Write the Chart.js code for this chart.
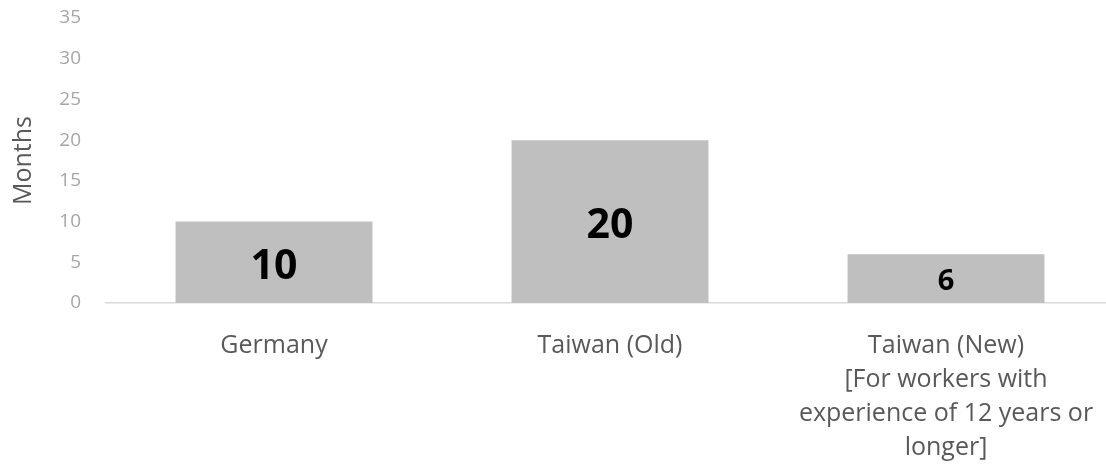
<!DOCTYPE html>
<html>
<head>
<meta charset="utf-8">
<script src="https://cdn.jsdelivr.net/npm/chart.js@4/dist/chart.umd.min.js"></script>
<style>
    html, body { margin: 0; padding: 0; background: #fff; overflow: hidden; }
    #wrap { width: 1114px; height: 464px; }
</style>
</head>
<body>
<div id="wrap"><canvas id="chart"></canvas></div>
<script>
// chart data
const categories = [
    'Germany',
    'Taiwan (Old)',
    ['Taiwan (New)', '[For workers with', 'experience of 12 years or', 'longer]']
];
const months = [10, 20, 6];
const yTicks = [0, 5, 10, 15, 20, 25, 30, 35];

// font sizes for the value labels inside the bars
const labelSizes = [41, 41, 29];

const barLabels = {
    id: 'barLabels',
    afterDatasetsDraw(chart) {
        const ctx = chart.ctx;
        const meta = chart.getDatasetMeta(0);
        ctx.save();
        ctx.fillStyle = '#000';
        ctx.textAlign = 'center';
        ctx.textBaseline = 'middle';
        meta.data.forEach((bar, i) => {
            const size = labelSizes[i];
            ctx.font = 'bold ' + size + 'px "Open Sans"';
            ctx.fillText(String(months[i]), bar.x, (bar.y + bar.base) / 2 + size * 0.12);
        });
        ctx.restore();
    }
};

new Chart(document.getElementById('chart'), {
    type: 'bar',
    data: {
        labels: categories,
        datasets: [{
            data: months,
            backgroundColor: '#bfbfbf',
            categoryPercentage: 1,
            barPercentage: 0.586
        }]
    },
    options: {
        responsive: true,
        maintainAspectRatio: false,
        animation: false,
        layout: { padding: { top: 18, right: 0, bottom: 0, left: 0 } },
        plugins: {
            legend: { display: false },
            tooltip: { enabled: false }
        },
        scales: {
            x: {
                grid: { display: false, drawTicks: false },
                border: { display: true, color: '#d9d9d9', width: 1.5 },
                ticks: {
                    color: '#595959',
                    font: { family: 'Open Sans', size: 25, lineHeight: 1.36 },
                    padding: 26,
                    maxRotation: 0,
                    autoSkip: false
                },
                afterFit(scale) {
                    scale.height = 161;
                    scale.paddingLeft = 0;
                    scale.paddingRight = 0;
                }
            },
            y: {
                min: 0,
                max: 35,
                grid: { display: false, drawTicks: false },
                border: { display: false },
                afterBuildTicks(scale) { scale.ticks = yTicks.map(v => ({ value: v })); },
                ticks: {
                    color: '#a6a6a6',
                    font: { family: 'Open Sans', size: 19 },
                    padding: 25
                },
                title: {
                    display: true,
                    text: 'Months',
                    color: '#595959',
                    font: { family: 'Open Sans', size: 25 },
                    padding: { top: 9, bottom: 0 }
                },
                afterFit(scale) {
                    scale.width = 106;
                    scale.paddingTop = 0;
                    scale.paddingBottom = 0;
                }
            }
        }
    },
    plugins: [barLabels]
});
</script>
</body>
</html>
